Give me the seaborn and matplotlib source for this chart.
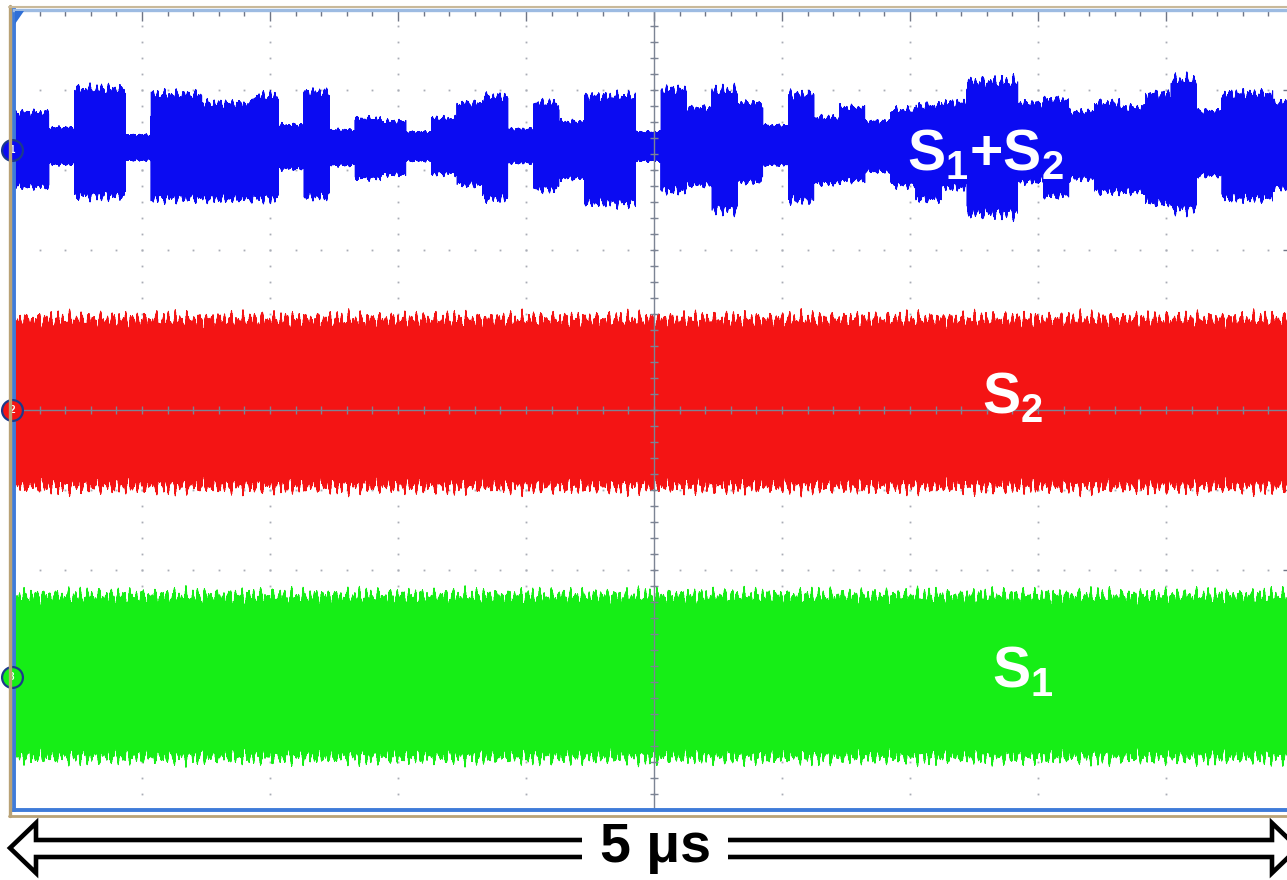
import numpy as np
import pandas as pd
import matplotlib
matplotlib.use("Agg")
import matplotlib.pyplot as plt
from matplotlib.patches import Polygon, Rectangle
from matplotlib.lines import Line2D
from matplotlib.ticker import MultipleLocator
import seaborn as sns

# ---- screen geometry (time in μs, amplitude in divisions) ----
t_span = 5.0
y_half = 5.0

# ---- S1+S2: per-symbol envelope (upper / lower excursion, divisions) ----
sym_start = 0.037
sym_period = 0.0996
blue_upper = [3.78, 3.56, 4.10, 4.10, 3.46, 4.03, 4.03, 3.91, 3.91, 4.01,
              3.60, 4.06, 3.53, 3.69, 3.65, 3.50, 3.69, 3.90, 4.00, 3.54,
              3.91, 3.65, 4.01, 4.01, 3.50, 4.09, 3.84, 4.09, 3.90, 3.59,
              4.03, 3.71, 3.84, 3.65, 3.81, 3.88, 3.91, 4.21, 4.21, 3.90,
              3.96, 3.78, 3.91, 3.85, 4.04, 4.23, 3.79, 4.04, 4.04, 3.91]
blue_lower = [2.73, 3.04, 2.59, 2.59, 3.10, 2.56, 2.56, 2.56, 2.56, 2.56,
              2.98, 2.58, 3.03, 2.85, 2.90, 3.09, 2.91, 2.75, 2.56, 3.06,
              2.69, 2.85, 2.50, 2.50, 3.09, 2.66, 2.75, 2.41, 2.79, 3.03,
              2.54, 2.78, 2.81, 2.94, 2.75, 2.56, 2.71, 2.35, 2.35, 2.79,
              2.60, 2.84, 2.66, 2.66, 2.50, 2.41, 2.88, 2.56, 2.56, 2.71]

# ---- S2 and S1 bands: centre and half-height (divisions) ----
s2_center, s2_half = 0.09, 1.18
s1_center, s1_half = -3.33, 1.14

channels = ["S1+S2", "S2", "S1"]
colors = {"S1+S2": "#0b0bf2", "S2": "#f41414", "S1": "#16ee16"}
labels = [r"$\mathbf{S_1{+}S_2}$", r"$\mathbf{S_2}$", r"$\mathbf{S_1}$"]
label_pos = [(3.49, 3.00), (3.78, -0.04), (3.82, -3.46)]
marker_y = [3.25, 0.0, -3.34]
marker_txt = ["1", "2", "3"]

W, H = 1287, 880

sns.set_theme(style="white")
plt.rcParams["font.family"] = ["Liberation Sans", "DejaVu Sans"]
plt.rcParams["mathtext.fontset"] = "custom"
plt.rcParams["mathtext.bf"] = "Liberation Sans:bold"
plt.rcParams["mathtext.rm"] = "Liberation Sans"
plt.rcParams["mathtext.sf"] = "Liberation Sans"

fig = plt.figure(figsize=(W / 100, H / 100), dpi=100)
fig.patch.set_facecolor("white")
ax = fig.add_axes([14 / W, 70 / H, 1280 / W, 800 / H])
ax.set_facecolor("white")

# ---- sampled traces: carrier swept inside each envelope ----
t = np.linspace(0.0, t_span, 40000)


def swing(tt, phase):
    ripple = 0.9 + 0.1 * (0.5 * np.sin(2 * np.pi * 41.3 * tt + phase)
                          + 0.3 * np.sin(2 * np.pi * 67.9 * tt + 1.1 + phase)
                          + 0.2 * np.sin(2 * np.pi * 113.7 * tt + 2.3 + phase))
    return np.sin(2 * np.pi * 997.0 * tt + phase) * ripple


idx = np.clip(np.floor((t - sym_start) / sym_period).astype(int), 0, len(blue_upper) - 1)
up = np.asarray(blue_upper)[idx]
lo = np.asarray(blue_lower)[idx]
v_sum = (up + lo) / 2 + (up - lo) / 2 * swing(t, 0.0)
v_s2 = s2_center + s2_half * swing(t, 1.7)
v_s1 = s1_center + s1_half * swing(t, 3.1)

df = pd.concat([
    pd.DataFrame({"t": t, "v": v_s1, "channel": "S1"}),
    pd.DataFrame({"t": t, "v": v_s2, "channel": "S2"}),
    pd.DataFrame({"t": t, "v": v_sum, "channel": "S1+S2"}),
], ignore_index=True)

sns.lineplot(data=df, x="t", y="v", hue="channel", palette=colors,
             estimator=None, sort=False, legend=False, linewidth=0.5, ax=ax,
             zorder=3)

ax.set_xlim(0, t_span)
ax.set_ylim(-y_half, y_half)
ax.set_xlabel("")
ax.set_ylabel("")

# ---- graticule: dotted grid behind the traces ----
grid_c = "#a9adb5"
gx = np.arange(0.5, t_span, 0.5)
gy = np.arange(-4, 5, 1)
for x0 in gx:
    ys = np.arange(-y_half, y_half + 1e-9, 0.2)
    ax.plot(np.full_like(ys, x0), ys, ls="none", marker="s", ms=1.3,
            color=grid_c, mew=0, zorder=1)
for y0 in gy:
    xs = np.arange(0, t_span + 1e-9, 0.1)
    ax.plot(xs, np.full_like(xs, y0), ls="none", marker="s", ms=1.3,
            color=grid_c, mew=0, zorder=1)

# centre cross with fine ticks, drawn over the traces
axis_c = "#7c8494"
ax.axvline(t_span / 2, color=axis_c, lw=1.0, zorder=5)
ax.axhline(0, color=axis_c, lw=1.0, zorder=5)
cx = np.arange(0, t_span + 1e-9, 0.1)
ax.plot(cx, np.zeros_like(cx), ls="none", marker="|", ms=6, mew=1.0,
        color=axis_c, zorder=5)
cy = np.arange(-y_half, y_half + 1e-9, 0.2)
ax.plot(np.full_like(cy, t_span / 2), cy, ls="none", marker="_", ms=6, mew=1.0,
        color=axis_c, zorder=5)

ax.xaxis.set_major_locator(MultipleLocator(0.5))
ax.xaxis.set_minor_locator(MultipleLocator(0.1))
ax.yaxis.set_major_locator(MultipleLocator(1.0))
ax.yaxis.set_minor_locator(MultipleLocator(0.2))
ax.tick_params(which="both", direction="in", top=True, right=True,
               labelbottom=False, labelleft=False, color="#6f7585", width=1.0)
ax.tick_params(which="major", length=8)
ax.tick_params(which="minor", length=4.5)

for side in ["left", "bottom", "right"]:
    ax.spines[side].set_color("#3f7bd8")
    ax.spines[side].set_linewidth(2.8)
    ax.spines[side].set_zorder(7)
ax.spines["top"].set_color("#9dbbe2")
ax.spines["top"].set_linewidth(2.4)
ax.spines["top"].set_zorder(7)


def fx(px):
    return px / W


def fy(py):
    return 1 - py / H


# outer bezel
tan = "#b9a276"
fig.add_artist(Line2D([fx(10), fx(10)], [fy(6), fy(816)], color=tan, lw=2.4))
fig.add_artist(Line2D([fx(9), fx(1287)], [fy(815.5), fy(815.5)], color=tan, lw=2.0))
fig.add_artist(Line2D([fx(9), fx(1287)], [fy(7), fy(7)], color="#c9b99a", lw=1.5))

# trigger marker
fig.add_artist(Polygon([(fx(15), fy(11)), (fx(24), fy(11)), (fx(15), fy(24))],
                       closed=True, facecolor="#2f6fd6", edgecolor="none"))

# channel markers
for ch, yv, txt in zip(channels, marker_y, marker_txt):
    ax.plot([-0.008], [yv], marker="o", ms=15, mfc=colors[ch], mec="#1c3a8c",
            mew=1.6, clip_on=False, zorder=8)
    ax.text(-0.008, yv, txt, color="white", fontsize=7, fontweight="bold",
            ha="center", va="center", clip_on=False, zorder=9)

# trace labels
for lab, (lx, ly) in zip(labels, label_pos):
    ax.text(lx, ly, lab, color="white", fontsize=41, ha="left", va="baseline",
            zorder=10)

# ---- time-span arrow ----
arrow_px = [(10, 848), (36, 823), (36, 840), (1272, 840), (1272, 823),
            (1298, 848), (1272, 873), (1272, 857), (36, 857), (36, 873)]
fig.add_artist(Polygon([(fx(x), fy(y)) for x, y in arrow_px], closed=True,
                       facecolor="white", edgecolor="black", lw=3.3,
                       joinstyle="miter"))
fig.add_artist(Rectangle((fx(582), fy(868)), fx(728) - fx(582), fy(828) - fy(868),
                         facecolor="white", edgecolor="none", zorder=5))
fig.text(fx(655), fy(848), "5 μs", fontsize=40, fontweight="bold", color="black",
         ha="center", va="center", zorder=6)

fig.savefig("out.png", dpi=100, facecolor="white")
